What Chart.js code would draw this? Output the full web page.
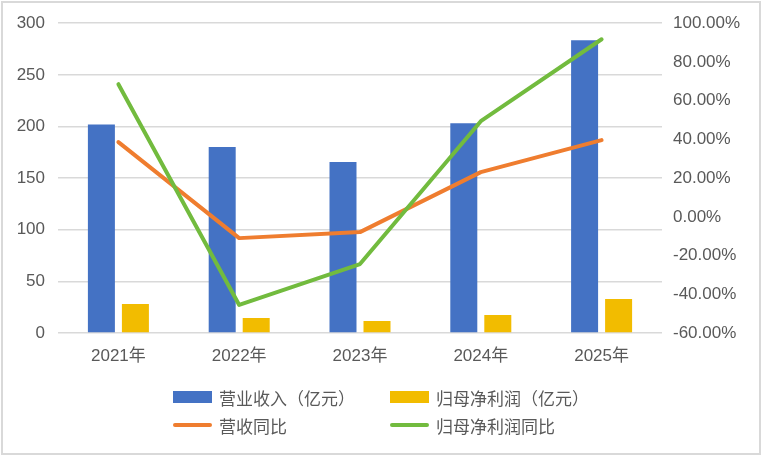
<!DOCTYPE html>
<html>
<head>
<meta charset="utf-8">
<script src="https://cdn.jsdelivr.net/npm/chart.js@4"></script>
<style>
    body { margin: 0; background: #fff; }
    #wrap { position: relative; width: 764px; height: 456px; }
    #frame { position: absolute; left: 1px; top: 1px; width: 756px; height: 450px; border: 2px solid #d9d9d9; }
    canvas { position: absolute; left: 0; top: 0; }
    #legend {
        position: absolute; left: 173px; top: 387px;
        display: grid; grid-template-columns: 217px 220px; row-gap: 8px;
        font-family: "Liberation Sans", "Noto Sans CJK SC", sans-serif;
        font-size: 17px; color: #595959;
    }
    .item { display: flex; align-items: center; height: 20px; white-space: nowrap; }
    .swatch { width: 39px; margin-right: 7px; }
</style>
</head>
<body>
<div id="wrap">
    <canvas id="chart" width="764" height="456"></canvas>
    <div id="frame"></div>
    <div id="legend"></div>
</div>
<script>
const years = ['2021年', '2022年', '2023年', '2024年', '2025年'];
const revenue = [202, 180, 165.5, 203, 283.5];      // 营业收入（亿元）
const netProfit = [28, 14.5, 11.5, 17.5, 33];       // 归母净利润（亿元）
const revenueYoY = [38.6, -11, -7.9, 23.1, 39.6];   // 营收同比 %
const profitYoY = [68.5, -45.5, -24.4, 49.4, 91.7]; // 归母净利润同比 %

const FONT = '"Liberation Sans", "Noto Sans CJK SC", sans-serif';
const GRAY = '#595959';

const ctx = document.getElementById('chart').getContext('2d');
const chart = new Chart(ctx, {
    data: {
        labels: years,
        datasets: [
            {
                type: 'bar', label: '营业收入（亿元）', data: revenue,
                backgroundColor: '#4472C4', yAxisID: 'y', order: 2,
                categoryPercentage: 0.563, barPercentage: 0.794
            },
            {
                type: 'bar', label: '归母净利润（亿元）', data: netProfit,
                backgroundColor: '#F2BC00', yAxisID: 'y', order: 2,
                categoryPercentage: 0.563, barPercentage: 0.794
            },
            {
                type: 'line', label: '营收同比', data: revenueYoY,
                borderColor: '#EF7D2F', borderWidth: 4, pointRadius: 0,
                borderCapStyle: 'round', borderJoinStyle: 'round',
                yAxisID: 'y1', order: 1
            },
            {
                type: 'line', label: '归母净利润同比', data: profitYoY,
                borderColor: '#72BB3E', borderWidth: 4, pointRadius: 0,
                borderCapStyle: 'round', borderJoinStyle: 'round',
                yAxisID: 'y1', order: 0
            }
        ]
    },
    options: {
        responsive: false,
        animation: false,
        layout: { padding: { top: 23, left: 0, right: 0, bottom: 83 } },
        plugins: {
            legend: { display: false },
            tooltip: { enabled: false }
        },
        scales: {
            x: {
                grid: { display: false },
                border: { display: false },
                ticks: { color: GRAY, font: { family: FONT, size: 17 }, padding: 5 },
                afterFit: (s) => { s.height = 40; }
            },
            y: {
                position: 'left', min: 0, max: 300,
                grid: { color: '#d9d9d9', lineWidth: 1.5, drawTicks: false },
                border: { display: false },
                ticks: { stepSize: 50, color: GRAY, font: { family: FONT, size: 17 }, padding: 13 },
                afterFit: (s) => { s.width = 58; }
            },
            y1: {
                position: 'right', min: -60, max: 100,
                grid: { display: false, drawTicks: false },
                border: { display: false },
                ticks: {
                    stepSize: 20, color: GRAY, font: { family: FONT, size: 17 }, padding: 11,
                    callback: (v) => v.toFixed(2) + '%'
                },
                afterFit: (s) => { s.width = 102; }
            }
        }
    }
});

// legend in two columns, as in the original
const legendEl = document.getElementById('legend');
const legendOrder = [0, 1, 2, 3];
legendOrder.forEach((i) => {
    const ds = chart.data.datasets[i];
    const item = document.createElement('div');
    item.className = 'item';
    const sw = document.createElement('span');
    sw.className = 'swatch';
    if (ds.type === 'bar') {
        sw.style.height = '12px';
        sw.style.background = ds.backgroundColor;
    } else {
        sw.style.height = '4px';
        sw.style.borderRadius = '2px';
        sw.style.background = ds.borderColor;
    }
    const txt = document.createElement('span');
    txt.textContent = ds.label;
    item.appendChild(sw);
    item.appendChild(txt);
    legendEl.appendChild(item);
});
</script>
</body>
</html>
